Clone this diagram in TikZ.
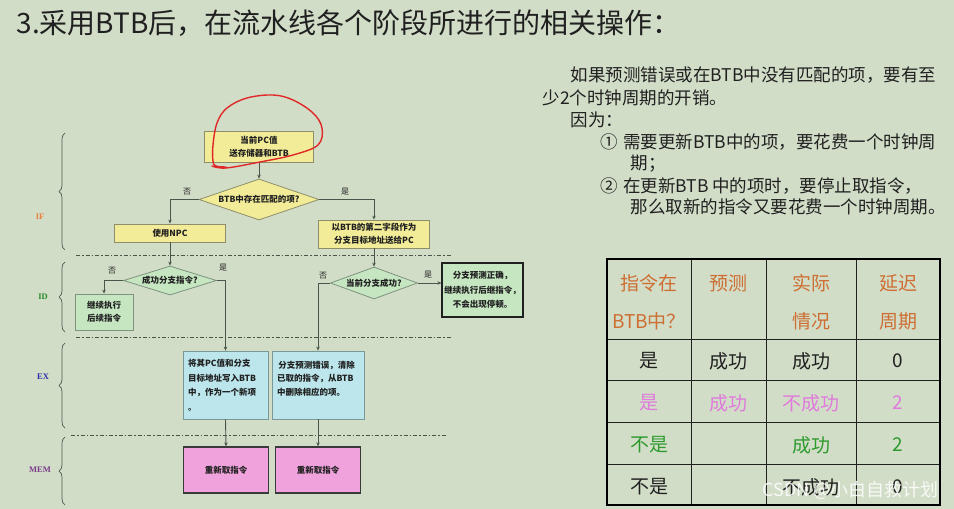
\documentclass[tikz,border=0pt]{standalone}
\usepackage{fontspec}
\setmainfont{Noto Sans CJK SC}
\newfontfamily\stagefont{Liberation Serif}
\usetikzlibrary{shapes.geometric,arrows.meta,decorations.pathreplacing}

\begin{document}
\begin{tikzpicture}[x=1pt, y=-1pt,
    flowfont/.style={font=\fontsize{8.5}{13}\selectfont\bfseries, text=textDark},
    yellowbox/.style={draw=yellowBorder, fill=yellowFill, line width=0.8pt, inner sep=0pt, align=center, flowfont},
    greenbox/.style={draw=greenBorder, fill=greenFill, line width=0.8pt, inner sep=0pt, align=center, flowfont},
    cyanbox/.style={draw=cyanBorder, fill=cyanFill, line width=0.8pt, inner ysep=0pt, inner xsep=5pt, align=left, flowfont, font=\fontsize{8.5}{14.5}\selectfont\bfseries},
    pinkbox/.style={draw=pinkBorder, fill=pinkFill, line width=1.3pt, inner sep=0pt, flowfont},
    decision/.style={diamond, aspect=3, inner sep=0pt, line width=0.8pt, flowfont},
    flow/.style={draw=lineColour, line width=0.9pt, -{Stealth[length=4pt,width=3.5pt]}},
    branch/.style={font=\fontsize{8}{10}\selectfont, text=textDark},
    stagebrace/.style={draw=braceColour, line width=0.7pt, decorate, decoration={brace, amplitude=6pt}},
    stagename/.style={font=\stagefont\fontsize{8.5}{10}\selectfont\bfseries},
    stageline/.style={draw=lineColour, line width=0.8pt, dash pattern=on 4pt off 2pt on 1.5pt off 2pt},
    para/.style={anchor=west, font=\fontsize{17.5}{22}\selectfont, text=textDark},
    cell/.style={font=\fontsize{19}{38}\selectfont, align=center},
  ]

    \definecolor{bgColour}{HTML}{D2DDC8}
    \definecolor{textDark}{HTML}{202020}
    \definecolor{lineColour}{HTML}{4A564A}
    \definecolor{braceColour}{HTML}{505850}
    \definecolor{yellowFill}{HTML}{F2EC98}
    \definecolor{yellowBorder}{HTML}{8E8E6A}
    \definecolor{greenFill}{HTML}{C6E6C2}
    \definecolor{greenBorder}{HTML}{7E927E}
    \definecolor{cyanFill}{HTML}{BCE6EC}
    \definecolor{cyanBorder}{HTML}{7A9898}
    \definecolor{pinkFill}{HTML}{F0A2DC}
    \definecolor{pinkBorder}{HTML}{3A3A3A}
    \definecolor{scribbleRed}{HTML}{E02828}
    \definecolor{headOrange}{HTML}{CD6E32}
    \definecolor{rowPink}{HTML}{E07ADC}
    \definecolor{rowGreen}{HTML}{2E9A2E}
    \definecolor{stageIF}{HTML}{E8803A}
    \definecolor{stageID}{HTML}{2A8A2A}
    \definecolor{stageEX}{HTML}{2A2AAA}
    \definecolor{stageMEM}{HTML}{7A3A8A}

    % Background
    \fill[bgColour] (0,0) rectangle (954,509);
    \useasboundingbox (0,0) rectangle (954,509);

    % Title
    \node[anchor=west, font=\fontsize{28}{30}\selectfont, text=textDark] (title) at (13,23)
        {3.采用BTB后，在流水线各个阶段所进行的相关操作：};

    % Stage braces and names
    \draw[stagebrace] (65,250) -- (65,133);
    \draw[stagebrace] (65,332) -- (65,262);
    \draw[stagebrace] (65,428) -- (65,343);
    \draw[stagebrace] (65,505) -- (65,437);
    \node[stagename, text=stageIF] (nameIF) at (40,217) {IF};
    \node[stagename, text=stageID] (nameID) at (43,297) {ID};
    \node[stagename, text=stageEX] (nameEX) at (43,377) {EX};
    \node[stagename, text=stageMEM] (nameMEM) at (40,470) {MEM};

    % Stage boundaries
    \draw[stageline] (76,255) -- (452,255);
    \draw[stageline] (76,337) -- (452,337);
    \draw[stageline] (71,435) -- (447,435);

    % IF stage
    \node[yellowbox, minimum width=109pt, minimum height=31pt] (pcBox) at (259,146.5)
        {当前PC值\\送存储器和BTB};
    \node[decision, draw=yellowBorder, fill=yellowFill, minimum width=120pt, minimum height=41pt] (matchDia) at (259,199.5)
        {BTB中存在匹配的项?};
    \node[yellowbox, minimum width=111pt, minimum height=18pt] (npcBox) at (170,233) {使用NPC};
    \node[yellowbox, minimum width=111pt, minimum height=28pt] (btbBox) at (374,234)
        {以BTB的第二字段作为\\分支目标地址送给PC};
    \node[branch] (noMatch) at (187,192) {否};
    \node[branch] (yesMatch) at (345,192) {是};

    % ID stage
    \node[decision, draw=greenBorder, fill=greenFill, minimum width=93pt, minimum height=29pt] (succDia) at (170,280.5)
        {成功分支指令?};
    \node[greenbox, minimum width=58pt, minimum height=36pt] (contBox) at (104,312)
        {继续执行\\后续指令};
    \node[decision, draw=greenBorder, fill=greenFill, minimum width=87pt, minimum height=32pt] (curDia) at (374,283)
        {当前分支成功?};
    \node[greenbox, draw=textDark, line width=1.2pt, minimum width=81pt, minimum height=54pt, font=\fontsize{8.5}{14.5}\selectfont\bfseries] (okBox) at (482.5,290)
        {分支预测正确，\\继续执行后继指令，\\不会出现停顿。};
    \node[branch] (noSucc) at (112,271) {否};
    \node[branch] (yesSucc) at (223,268) {是};
    \node[branch] (noCur) at (323,276) {否};
    \node[branch] (yesCur) at (428,275) {是};

    % EX stage
    \node[cyanbox, text width=75pt, minimum height=68pt] (exNew) at (225.5,385)
        {将其PC值和分支\\目标地址写入BTB\\中，作为一个新项\\。};
    \node[cyanbox, text width=82pt, minimum height=68pt, font=\fontsize{8.5}{13.5}\selectfont\bfseries] (exDel) at (318,385)
        {\,分支预测错误，清除\\已取的指令，从BTB\\中删除相应的项。\\\mbox{}};

    % MEM stage
    \node[pinkbox, minimum width=85pt, minimum height=46pt] (memA) at (226,470) {重新取指令};
    \node[pinkbox, minimum width=85pt, minimum height=46pt] (memB) at (318,470) {重新取指令};

    % Connectors
    \draw[flow] (pcBox.south) -- (matchDia.north);
    \draw[flow] (matchDia.west) -| (npcBox.north);
    \draw[flow] (matchDia.east) -| (btbBox.north);
    \draw[flow] (npcBox.south) -- (succDia.north);
    \draw[flow] (succDia.west) -| (contBox.north);
    \draw[flow] (succDia.east) -| (exNew.north);
    \draw[flow] (btbBox.south) -- (curDia.north);
    \draw[flow] (curDia.east) -- (curDia.east -| okBox.west);
    \draw[flow] (curDia.west) -| (exDel.north);
    \draw[flow] (exNew.south) -- (memA.north);
    \draw[flow] (exDel.south) -- (memB.north);

    % Red hand-drawn loop round the first box
    \draw[scribbleRed, line width=1.4pt, line cap=round, line join=round]
        plot[smooth, tension=0.6] coordinates {(226,167) (216,166) (213,161) (213,145) (217,123) (227,108)
            (247,98) (273,95) (293,100) (313,113) (322,128) (318,145) (293,155) (260,162) (226,168) (212,166)};

    % Explanation text
    \node[para] (lineA) at (567,75) {如果预测错误或在BTB中没有匹配的项，要有至};
    \node[para] (lineB) at (539,98) {少2个时钟周期的开销。};
    \node[para] (lineC) at (567,120) {因为：};
    \node[para] (lineD) at (597,142) {①\hspace{5pt}需要更新BTB中的项，要花费一个时钟周};
    \node[para] (lineE) at (627,164) {期；};
    \node[para] (lineF) at (597,186) {②\hspace{5pt}在更新BTB 中的项时，要停止取指令，};
    \node[para] (lineG) at (627,207) {那么取新的指令又要花费一个时钟周期。};

    % Table grid
    \foreach \colX in {691,766,856}
        \draw[textDark, line width=1pt] (\colX,259) -- (\colX,505);
    \foreach \rowY in {339,380,422,464}
        \draw[textDark, line width=1pt] (607,\rowY) -- (940,\rowY);
    \draw[black, line width=2pt] (607,259) rectangle (940,505);

    % Table header
    \node[cell, text=headOrange] (headA) at (649,302) {指令在\\BTB中？};
    \node[cell, text=headOrange] (headB) at (728.5,283) {预测};
    \node[cell, text=headOrange] (headC) at (811,302) {实际\\情况};
    \node[cell, text=headOrange] (headD) at (898,302) {延迟\\周期};

    % Table rows
    \foreach \txtA/\txtB/\txtC/\txtD/\rowY/\rowClr [count=\r] in
        {是/成功/成功/0/361/textDark, 是/成功/不成功/2/403/rowPink,
         不是//成功/2/445/rowGreen, 不是//不成功/0/487/textDark} {
        \node[cell, text=\rowClr] (cellA\r) at (649,\rowY) {\txtA};
        \node[cell, text=\rowClr] (cellB\r) at (728.5,\rowY) {\txtB};
        \node[cell, text=\rowClr] (cellC\r) at (811,\rowY) {\txtC};
        \node[cell, text=\rowClr] (cellD\r) at (898,\rowY) {\txtD};
    }

    % Watermark
    \node[anchor=east, font=\fontsize{18}{20}\selectfont, text=white, opacity=0.85] (mark) at (942,490)
        {CSDN @小白自救计划};

\end{tikzpicture}
\end{document}
